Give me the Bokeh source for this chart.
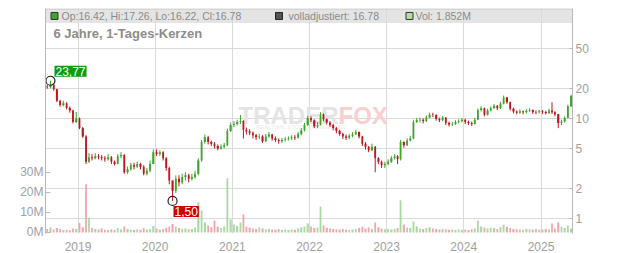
import math
import pandas as pd
from bokeh.plotting import figure
from bokeh.models import (Range1d, LinearAxis, LinearScale, FixedTicker, PrintfTickFormatter,
                          CustomJSTickFormatter, DatetimeTickFormatter, BoxAnnotation, Span,
                          Label, ColumnDataSource)
from bokeh.embed import file_html
from bokeh.resources import INLINE

# ---------------- data (semi-monthly candles) ----------------
bin_starts = pd.date_range("2018-08-01", periods=164, freq="SMS")
bin_end_last = pd.Timestamp("2025-06-01")
first_open = 20.8
closes = [20.5, 21.5, 19.5, 15.0, 13.6, 14.2, 12.7, 12.0, 9.2, 10.0,
          8.0, 6.6, 3.7, 4.1, 4.0, 4.2, 4.1, 4.0, 3.9, 4.1,
          3.7, 3.5, 4.2, 4.3, 2.9, 3.1, 3.4, 3.3, 3.5, 3.3,
          2.8, 3.0, 3.5, 4.6, 4.4, 4.6, 4.0, 3.2, 2.4, 1.9,
          2.5, 2.3, 2.6, 2.7, 2.5, 2.6, 2.8, 3.8, 5.8, 6.5,
          5.8, 5.6, 5.3, 5.0, 5.2, 5.4, 7.5, 8.6, 8.8, 9.2,
          9.4, 7.7, 7.4, 7.2, 6.8, 6.5, 6.6, 5.9, 6.6, 6.9,
          6.3, 6.1, 5.9, 6.1, 6.2, 6.3, 6.5, 6.4, 7.0, 7.6,
          8.6, 10.1, 9.6, 8.3, 8.6, 11.0, 9.8, 9.1, 8.6, 8.0,
          7.5, 7.0, 6.6, 6.4, 6.7, 6.9, 7.3, 6.6, 5.6, 5.2,
          4.8, 5.2, 4.0, 3.7, 3.4, 3.5, 3.7, 4.0, 4.2, 3.9,
          5.8, 5.4, 6.0, 6.3, 9.2, 9.6, 9.7, 9.4, 10.2, 10.9,
          10.8, 9.9, 9.6, 10.2, 9.0, 8.7, 8.8, 9.2, 9.4, 9.7,
          9.2, 9.0, 8.8, 9.7, 12.1, 12.6, 10.9, 12.0, 12.7, 13.4,
          12.6, 14.0, 16.2, 14.5, 12.5, 11.7, 11.4, 11.8, 11.5, 11.9,
          12.1, 11.6, 11.5, 11.8, 11.6, 11.3, 12.0, 11.5, 11.0, 9.0,
          9.3, 10.1, 13.2, 16.78]
highs = [21.6, 23.77, 22.0, 19.8, 15.3, 15.0, 14.5, 13.2, 12.2, 11.6,
         10.2, 8.2, 6.8, 4.5, 4.4, 4.5, 4.4, 4.3, 4.2, 4.4,
         4.2, 3.8, 4.4, 4.6, 4.4, 3.3, 3.6, 3.6, 3.7, 3.6,
         3.4, 3.2, 3.8, 4.9, 4.9, 4.8, 4.7, 4.1, 3.3, 2.4,
         2.7, 2.7, 2.8, 2.9, 2.8, 2.8, 3.0, 4.0, 6.1, 6.9,
         6.7, 6.0, 5.8, 5.5, 5.5, 5.7, 7.9, 9.1, 9.4, 9.7,
         10.8, 9.6, 8.1, 7.8, 7.4, 7.0, 7.0, 6.8, 7.0, 7.3,
         7.0, 6.6, 6.3, 6.4, 6.5, 6.6, 6.8, 6.8, 7.3, 8.0,
         9.0, 10.6, 10.5, 9.8, 9.2, 11.5, 11.2, 10.0, 9.4, 8.8,
         8.2, 7.7, 7.2, 6.9, 7.0, 7.3, 7.7, 7.4, 6.7, 5.8,
         5.3, 5.6, 5.3, 4.1, 3.8, 3.7, 3.9, 4.2, 4.4, 4.3,
         6.1, 5.9, 6.3, 6.7, 9.7, 10.1, 10.2, 10.0, 10.7, 11.4,
         11.4, 11.0, 10.2, 10.6, 10.3, 9.3, 9.2, 9.6, 9.8, 10.1,
         9.9, 9.5, 9.3, 10.1, 12.6, 13.2, 12.8, 12.5, 13.2, 13.9,
         13.6, 14.6, 16.9, 16.4, 14.7, 12.8, 12.0, 12.3, 12.0, 12.4,
         12.6, 12.3, 12.0, 12.2, 12.1, 11.9, 12.5, 14.5, 11.8, 11.1,
         9.7, 10.5, 13.7, 17.26]
lows = [19.8, 20.0, 18.9, 14.5, 13.1, 13.2, 12.3, 11.4, 8.9, 9.0,
        7.8, 6.4, 3.5, 3.6, 3.8, 3.9, 3.9, 3.8, 3.7, 3.8,
        3.5, 3.4, 3.5, 4.0, 2.8, 2.8, 3.0, 3.1, 3.2, 3.1,
        2.7, 2.7, 2.9, 3.5, 4.2, 4.2, 3.8, 3.0, 2.2, 1.50,
        1.8, 2.1, 2.2, 2.4, 2.3, 2.4, 2.5, 2.7, 3.7, 5.6,
        5.5, 5.3, 5.0, 4.8, 4.9, 5.0, 5.3, 7.3, 8.2, 8.5,
        8.8, 6.3, 6.9, 6.8, 6.3, 6.1, 6.2, 5.7, 5.8, 6.4,
        6.0, 5.8, 5.6, 5.7, 5.9, 6.0, 6.1, 6.1, 6.3, 6.8,
        7.4, 8.4, 9.2, 8.0, 8.0, 8.5, 9.4, 8.7, 8.2, 7.6,
        7.1, 6.7, 6.2, 6.1, 6.2, 6.5, 6.8, 6.3, 5.3, 4.9,
        4.6, 4.7, 2.9, 3.5, 3.2, 3.2, 3.4, 3.6, 3.9, 3.5,
        3.8, 5.1, 5.3, 5.9, 6.2, 9.0, 9.1, 8.9, 9.2, 10.0,
        10.3, 9.5, 9.2, 9.4, 8.6, 8.3, 8.4, 8.6, 8.9, 9.1,
        8.8, 8.6, 8.4, 8.7, 9.6, 11.7, 10.5, 10.7, 11.7, 12.4,
        12.1, 12.4, 13.8, 14.0, 12.0, 11.2, 11.0, 11.1, 11.0, 11.2,
        11.6, 11.1, 11.0, 11.2, 11.1, 10.9, 11.1, 11.1, 10.5, 8.0,
        8.6, 9.1, 10.0, 13.0]
volumes_m = [1.8, 2.5, 1.5, 2.2, 1.6, 1.2, 1.4, 1.1, 2.0, 1.7,
             4.8, 2.6, 24.0, 7.5, 2.4, 1.8, 1.5, 2.0, 1.4, 1.2,
             1.6, 1.3, 2.2, 1.5, 3.0, 1.8, 1.4, 1.2, 1.6, 1.3,
             2.2, 1.5, 1.8, 3.2, 2.0, 1.5, 1.8, 2.4, 3.0, 4.2,
             3.0, 2.2, 1.8, 2.0, 1.6, 1.8, 2.5, 15.0, 11.0, 5.0,
             3.5, 2.6, 6.0, 2.8, 2.2, 3.0, 27.0, 6.5, 4.0, 3.2,
             5.0, 9.0, 3.0, 2.4, 2.0, 1.8, 2.6, 2.0, 1.6, 1.8,
             1.5, 1.4, 1.7, 1.3, 1.5, 1.2, 1.6, 1.4, 2.0, 2.6,
             3.0, 4.5, 3.0, 2.2, 2.5, 13.0, 3.5, 2.4, 2.0, 1.8,
             1.6, 1.5, 1.8, 1.4, 1.3, 1.5, 1.7, 2.2, 2.8, 2.0,
             2.5, 1.8, 5.0, 2.6, 2.0, 1.6, 1.8, 1.5, 1.7, 2.2,
             16.0, 4.0, 2.5, 2.2, 5.5, 3.0, 2.0, 1.8, 2.2, 2.6,
             2.0, 1.7, 1.5, 1.8, 1.6, 1.4, 1.5, 1.3, 1.6, 1.4,
             1.5, 1.3, 1.6, 2.0, 6.0, 3.0, 2.5, 2.0, 2.4, 2.2,
             1.8, 2.6, 3.8, 2.8, 2.2, 1.8, 1.6, 1.5, 1.4, 1.7,
             1.6, 1.5, 1.8, 1.4, 1.5, 1.7, 1.6, 4.5, 2.0, 5.0,
             2.8, 2.2, 3.5, 1.852]
year_ticks = ["2019-01-01", "2020-01-01", "2021-01-01", "2022-01-01",
              "2023-01-01", "2024-01-01", "2025-01-01"]
price_ticks = [1, 2, 5, 10, 20, 50]
vol_ticks_m = [0, 10, 20, 30]
last_open, last_high, last_low, last_close = 16.42, 17.26, 16.22, 16.78
adjusted_close = 16.78
last_volume_m = 1.852
max_label, min_label = "23,77", "1,50"
subtitle = "6 Jahre, 1-Tages-Kerzen"

# ---------------- layout constants ----------------
W, H = 632, 253
FL, FR, FT, FB = 45, 572, 8, 234          # frame edges in pixels
X0 = pd.Timestamp("2018-07-31").value / 1e6
X1 = pd.Timestamp("2025-05-30").value / 1e6
PRICE_MIN, PRICE_MAX = 0.7094, 125.1
VOL_MIN, VOL_MAX = -0.5e6, 111.5e6
LT, LB = math.log10(PRICE_MAX), math.log10(PRICE_MIN)

def px_x(px):
    return X0 + (px - FL) / (FR - FL) * (X1 - X0)

def px_y(py):
    return 10 ** (LT - (py - FT) / (FB - FT) * (LT - LB))

GREEN, RED = "#3ea62a", "#c2151b"
VGREEN, VRED = "#a8daa0", "#f2a6ac"
FONT = "Liberation Sans"

# ---------------- build sources ----------------
edges = list(bin_starts) + [bin_end_last]
xs, ws = [], []
for i in range(len(closes)):
    a = edges[i].value / 1e6
    b = edges[i + 1].value / 1e6
    xs.append((a + b) / 2)
    ws.append(b - a)
opens = [first_open] + closes[:-1]
up = [c >= o for o, c in zip(opens, closes)]
src = ColumnDataSource(dict(
    x=xs,
    w=[0.6 * w for w in ws],
    vw=[0.6 * w for w in ws],
    top=[max(o, c) for o, c in zip(opens, closes)],
    bot=[min(o, c) for o, c in zip(opens, closes)],
    high=highs, low=lows,
    color=[GREEN if u else RED for u in up],
    vcolor=[VGREEN if u else VRED for u in up],
    vol=[v * 1e6 for v in volumes_m],
))

p = figure(width=W, height=H, x_axis_type="datetime", y_axis_type="log",
           y_axis_location="right",
           x_range=Range1d(X0, X1), y_range=Range1d(PRICE_MIN, PRICE_MAX),
           output_backend="svg", toolbar_location=None,
           min_border_left=FL, min_border_right=W - FR,
           min_border_top=FT, min_border_bottom=H - FB)
p.outline_line_color = None
p.background_fill_color = "white"

p.extra_y_ranges = {"vol": Range1d(VOL_MIN, VOL_MAX)}
p.extra_y_scales = {"vol": LinearScale()}

# axes
year_ms = [pd.Timestamp(t).value / 1e6 for t in year_ticks]
xt = FixedTicker(ticks=year_ms)
p.xaxis.ticker = xt
p.xgrid.ticker = xt
p.xaxis.formatter = DatetimeTickFormatter(years="%Y", months="%Y", days="%Y", hours="%Y",
                                          minutes="%Y", seconds="%Y", milliseconds="%Y",
                                          microseconds="%Y")
p.xaxis.axis_line_color = None
p.xaxis.major_tick_line_color = None
p.xaxis.minor_tick_line_color = None
p.xaxis.major_label_standoff = 2
p.xaxis.major_label_text_font_size = "12px"
p.xaxis.major_label_text_color = "#a0a0a0"
p.xaxis.major_label_text_font = FONT

yt = FixedTicker(ticks=price_ticks)
p.yaxis.ticker = yt
p.ygrid.ticker = yt
p.yaxis.formatter = PrintfTickFormatter(format="%d")
p.yaxis.axis_line_color = "#b8b8b8"
p.yaxis.major_tick_line_color = "#b8b8b8"
p.yaxis.minor_tick_line_color = None
p.yaxis.major_tick_in = 3
p.yaxis.major_tick_out = 0
p.yaxis.major_label_standoff = 3
p.yaxis.major_label_text_font_size = "12px"
p.yaxis.major_label_text_color = "#a0a0a0"
p.yaxis.major_label_text_font = FONT

vaxis = LinearAxis(y_range_name="vol",
                   ticker=FixedTicker(ticks=[v * 1e6 for v in vol_ticks_m]),
                   formatter=CustomJSTickFormatter(code="return (tick/1e6).toFixed(0) + 'M';"))
vaxis.axis_line_color = "#b8b8b8"
vaxis.major_tick_line_color = "#b8b8b8"
vaxis.minor_tick_line_color = None
vaxis.major_tick_in = 5
vaxis.major_tick_out = 0
vaxis.major_label_standoff = 2
vaxis.major_label_text_font_size = "12px"
vaxis.major_label_text_color = "#a0a0a0"
vaxis.major_label_text_font = FONT
p.add_layout(vaxis, "left")

p.xgrid.grid_line_color = "#dadada"
p.ygrid.grid_line_color = "#dadada"

# header band
hdr = BoxAnnotation(bottom=px_y(22.5), fill_color="#d9d9d9", fill_alpha=0.72,
                    line_color=None, level="underlay")
p.add_layout(hdr)
p.add_layout(Span(location=px_y(8.5), dimension="width", line_color="#c6c6c6", line_width=1))

# watermark
p.add_layout(Label(x=px_x(338), y=px_y(115), text="TRADER", text_align="right",
                   text_baseline="middle", text_font_size="24px", text_font_style="bold",
                   text_color="#e4e4e4", text_font=FONT, level="underlay"))
p.add_layout(Label(x=px_x(338), y=px_y(115), text="FOX", text_align="left",
                   text_baseline="middle", text_font_size="24px", text_font_style="bold",
                   text_color="#f9cfcf", text_font=FONT, level="underlay"))
p.add_layout(Label(x=px_x(300), y=px_y(127), text="REALTIME STOCK SCREENING",
                   text_align="center", text_baseline="middle", text_font_size="6px",
                   text_color="#ececec", text_font=FONT, level="underlay"))

# volume
p.vbar(x="x", width="vw", top="vol", bottom=0, source=src, y_range_name="vol",
       fill_color="vcolor", line_color=None)

# candles
p.segment(x0="x", y0="low", x1="x", y1="high", source=src, line_color="color", line_width=1)
p.vbar(x="x", width="w", top="top", bottom="bot", source=src,
       fill_color="color", line_color=None)

# extreme markers
imax = highs.index(max(highs))
imin = lows.index(min(lows))
p.scatter(x=[xs[imax], xs[imin]], y=[highs[imax], lows[imin]], marker="circle", size=9,
          fill_color=None, line_color="#222222", line_width=1.2)
p.add_layout(Label(x=px_x(54), y=px_y(71), text=max_label, text_align="left",
                   text_baseline="middle", text_font_size="12px", text_color="white",
                   text_font=FONT, background_fill_color="#109a10", padding=1))
p.add_layout(Label(x=px_x(173), y=px_y(212), text=min_label, text_align="left",
                   text_baseline="middle", text_font_size="12px", text_color="white",
                   text_font=FONT, background_fill_color="#cc0000", padding=1))

# header legend
hy = px_y(15.5)
p.scatter(x=[px_x(54), px_x(278.5), px_x(409)], y=[hy] * 3, marker="square", size=7,
          fill_color=[GREEN, "#555555", "#b0dfa6"], line_color=["#333333", "#222222", "#333333"],
          line_width=1)
hdr_kw = dict(text_baseline="middle", text_font_size="10.5px", text_color="#8a8a8a",
              text_font=FONT)
p.add_layout(Label(x=px_x(61), y=hy,
                   text=f"Op:{last_open:.2f}, Hi:{last_high:.2f}, Lo:{last_low:.2f}, Cl:{last_close:.2f}",
                   **hdr_kw))
p.add_layout(Label(x=px_x(288), y=hy, text=f"volladjustiert: {adjusted_close:.2f}", **hdr_kw))
p.add_layout(Label(x=px_x(415), y=hy, text=f"Vol: {last_volume_m:.3f}M", **hdr_kw))

# subtitle
p.add_layout(Label(x=px_x(53), y=px_y(33.5), text=subtitle, text_baseline="middle",
                   text_font_size="13px", text_font_style="bold", text_color="#8c8c8c",
                   text_font=FONT))

open("out.html", "w").write(file_html(p, INLINE))
